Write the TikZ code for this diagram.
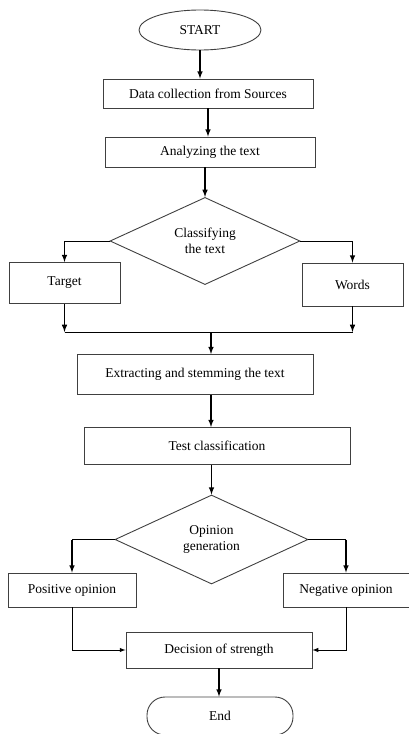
\documentclass[tikz,border=0pt]{standalone}
\usepackage{fontspec}
\setmainfont{Liberation Serif}
\usetikzlibrary{shapes.geometric}
\begin{document}
\begin{tikzpicture}[x=1pt, y=-1pt,
		box/.style = {draw=black!75, line width=0.9pt, inner sep=2pt},
		dmd/.style = {draw=black!75, line width=0.9pt, diamond, inner sep=0pt, align=center},
		arr/.style = {-latex, line width=1.5pt},
		lin/.style = {line width=0.9pt},
		font = \fontsize{13.5}{16}\selectfont]
	\useasboundingbox (0,0) rectangle (409,734);
	% nodes
	\node[draw=black!75, line width=0.9pt, ellipse, minimum width=122pt, minimum height=40pt] (start) at (200,30) {START};
	\node[box, minimum width=210pt, minimum height=29pt] (collect) at (208,93.5) {Data collection from Sources};
	\node[box, minimum width=210pt, minimum height=30pt] (analyze) at (210,152) {Analyzing the text};
	\node[dmd, minimum width=190pt, minimum height=84pt] (classify) at (205,241) {Classifying\\the text};
	\node[box, minimum width=111pt, minimum height=41pt] (target) at (64.5,283) {Target};
	\node[box, minimum width=101pt, minimum height=43pt] (words) at (352.5,284.5) {Words};
	\coordinate (jl) at (target.south |- 0,332);
	\coordinate (jr) at (words.south |- 0,332);
	\coordinate (jm) at (211,332);
	\node[box, minimum width=236pt, minimum height=40pt] (extract) at (195,374.5) {Extracting and stemming the text};
	\node[box, minimum width=266pt, minimum height=37pt] (testcls) at (217,446) {Test classification};
	\node[dmd, minimum width=193pt, minimum height=89pt] (opinion) at (211.5,539.5) {Opinion\\generation};
	\node[box, minimum width=128pt, minimum height=34pt] (positive) at (72,590) {Positive opinion};
	\node[box, minimum width=126pt, minimum height=34pt] (negative) at (346,590) {Negative opinion};
	\node[box, minimum width=186pt, minimum height=36pt] (decision) at (219,650) {Decision of strength};
	\node[draw=black!75, line width=0.9pt, rounded corners=18pt, minimum width=146pt, minimum height=38pt] (end) at (220,716) {End};
	% connectors
	\draw[arr] (start.south) -- (start.south |- collect.north);
	\draw[arr] (collect.south) -- (collect.south |- analyze.north);
	\draw[arr] (classify.north |- analyze.south) -- (classify.north);
	\draw[lin] (classify.west) -- (classify.west -| target.north);
	\draw[arr] (classify.west -| target.north) -- (target.north);
	\draw[lin] (classify.east) -- (classify.east -| words.north);
	\draw[arr] (classify.east -| words.north) -- (words.north);
	\draw[arr] (target.south) -- (jl);
	\draw[arr] (words.south) -- (jr);
	\draw[lin] (jl) -- (jr);
	\draw[arr] (jm) -- (jm |- extract.north);
	\draw[arr] (jm |- extract.south) -- (jm |- testcls.north);
	\draw[arr] (opinion.north |- testcls.south) -- (opinion.north);
	\draw[lin] (opinion.west) -- (opinion.west -| positive.north);
	\draw[arr] (opinion.west -| positive.north) -- (positive.north);
	\draw[lin] (opinion.east) -- (opinion.east -| negative.north);
	\draw[arr] (opinion.east -| negative.north) -- (negative.north);
	\draw[arr, line width=1pt] (positive.south) |- (decision.west);
	\draw[arr, line width=1pt] (negative.south) |- (decision.east);
	\draw[arr] (decision.south) -- (decision.south |- end.north);
\end{tikzpicture}
\end{document}
